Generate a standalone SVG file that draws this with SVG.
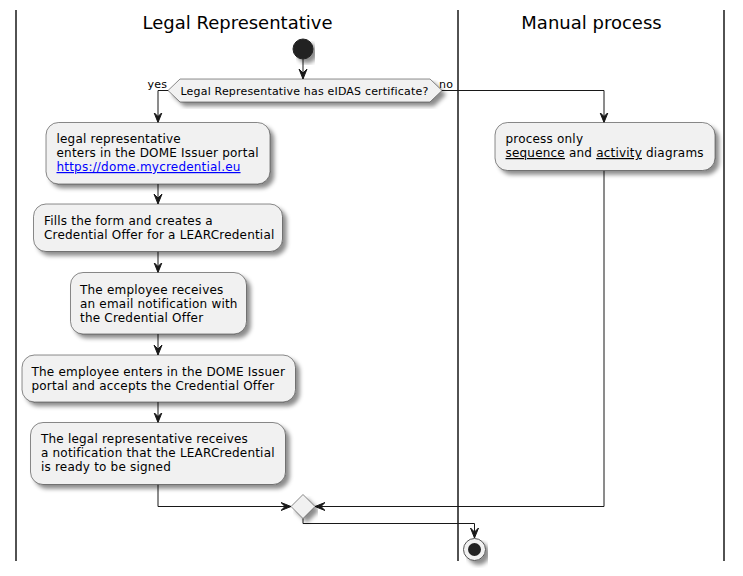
<svg xmlns="http://www.w3.org/2000/svg" width="743" height="576" viewBox="0 0 743 576">
<defs>
<filter id="sh" x="-5%" y="-10%" width="115%" height="140%">
<feGaussianBlur in="SourceAlpha" stdDeviation="2" result="b"/>
<feColorMatrix in="b" type="matrix" values="0 0 0 0 0 0 0 0 0 0 0 0 0 0 0 0 0 0 0.45 0" result="c"/>
<feOffset in="c" dx="4" dy="4" result="o"/>
<feMerge><feMergeNode in="o"/><feMergeNode in="SourceGraphic"/></feMerge>
</filter>
<marker id="ah" viewBox="0 0 12 10" refX="10" refY="5" markerWidth="12" markerHeight="10" markerUnits="userSpaceOnUse" orient="auto">
<polygon points="0,1 10,5 0,9 4,5" fill="#181818" stroke="#181818" stroke-width="1" stroke-linejoin="miter"/>
</marker>
</defs>
<style>
.lane{stroke:#181818;stroke-width:1.5;fill:none}
.title{font-family:"DejaVu Sans",sans-serif;font-size:18px;fill:#000;text-anchor:middle}
.box{fill:#F1F1F1;stroke:#181818;stroke-width:0.5;filter:url(#sh)}
.t{font-family:"DejaVu Sans",sans-serif;font-size:12px;letter-spacing:0.2px;fill:#000}
.s{font-family:"DejaVu Sans",sans-serif;font-size:11px;letter-spacing:0.18px;fill:#000}
.c{fill:none;stroke:#181818;stroke-width:1}
.link{fill:#0000FF;text-decoration:underline}
.u{text-decoration:underline}
</style>
<rect width="743" height="576" fill="#FFFFFF"/>
<g id="lanes">
<line class="lane" x1="16" y1="10" x2="16" y2="561"/>
<line class="lane" x1="458" y1="10" x2="458" y2="561"/>
<line class="lane" x1="724" y1="10" x2="724" y2="561"/>
<text class="title" x="237.5" y="29">Legal Representative</text>
<text class="title" x="591.5" y="29">Manual process</text>
</g>
<g id="connectors">
<line class="c" x1="303" y1="59" x2="303" y2="79" marker-end="url(#ah)"/>
<polyline class="c" points="168,90.5 158,90.5 158,122.5" marker-end="url(#ah)"/>
<polyline class="c" points="442,90.5 604,90.5 604,122.5" marker-end="url(#ah)"/>
<line class="c" x1="158" y1="184" x2="158" y2="204" marker-end="url(#ah)"/>
<line class="c" x1="158" y1="251.5" x2="158" y2="272.5" marker-end="url(#ah)"/>
<line class="c" x1="158" y1="334" x2="158" y2="355" marker-end="url(#ah)"/>
<line class="c" x1="158" y1="402" x2="158" y2="422.5" marker-end="url(#ah)"/>
<polyline class="c" points="158,484.5 158,506.5 291,506.5" marker-end="url(#ah)"/>
<polyline class="c" points="604,170.5 604,506.5 315,506.5" marker-end="url(#ah)"/>
<polyline class="c" points="303,518.5 303,523.5 474.5,523.5 474.5,538" marker-end="url(#ah)"/>
<text class="s" x="147.5" y="88">yes</text>
<text class="s" x="439" y="88">no</text>
</g>
<g id="start">
<circle cx="303" cy="49" r="10" fill="#222222" stroke="#222222" filter="url(#sh)"/>
</g>
<g id="decision">
<polygon class="box" points="168,90.5 180,79 430,79 442,90.5 430,102 180,102"/>
<text class="s" x="180.5" y="94.5">Legal Representative has eIDAS certificate?</text>
</g>
<g id="portal">
<rect class="box" x="46" y="122.5" width="224" height="61.5" rx="12.5"/>
<text class="t" x="56.5" y="143">legal representative</text>
<text class="t" x="56.5" y="157">enters in the DOME Issuer portal</text>
<text class="t link" x="56.5" y="171">https://dome.mycredential.eu</text>
</g>
<g id="fills">
<rect class="box" x="33.5" y="204" width="249" height="47.5" rx="12.5"/>
<text class="t" x="44" y="225">Fills the form and creates a</text>
<text class="t" x="44" y="239">Credential Offer for a LEARCredential</text>
</g>
<g id="email">
<rect class="box" x="70.5" y="272.5" width="176" height="61.5" rx="12.5"/>
<text class="t" x="80" y="294">The employee receives</text>
<text class="t" x="80" y="308">an email notification with</text>
<text class="t" x="80" y="322">the Credential Offer</text>
</g>
<g id="accept">
<rect class="box" x="22" y="355" width="273.5" height="47" rx="12.5"/>
<text class="t" x="31.5" y="375.5">The employee enters in the DOME Issuer</text>
<text class="t" x="31.5" y="389.5">portal and accepts the Credential Offer</text>
</g>
<g id="notify">
<rect class="box" x="30.5" y="422.5" width="255" height="62" rx="12.5"/>
<text class="t" x="41" y="443">The legal representative receives</text>
<text class="t" x="41" y="457">a notification that the LEARCredential</text>
<text class="t" x="41" y="471">is ready to be signed</text>
</g>
<g id="manual">
<rect class="box" x="495" y="122.5" width="220" height="48" rx="12.5"/>
<text class="t" x="505.5" y="143">process only</text>
<text class="t" x="505.5" y="157"><tspan class="u">sequence</tspan> and <tspan class="u">activity</tspan> diagrams</text>
</g>
<g id="merge">
<polygon class="box" points="291,506.5 303,494.5 315,506.5 303,518.5"/>
</g>
<g id="end">
<circle cx="474.5" cy="549.5" r="11" fill="#F1F1F1" stroke="#555555" stroke-width="1" filter="url(#sh)"/>
<circle cx="474.5" cy="549.5" r="6.5" fill="#222222"/>
</g>
</svg>
